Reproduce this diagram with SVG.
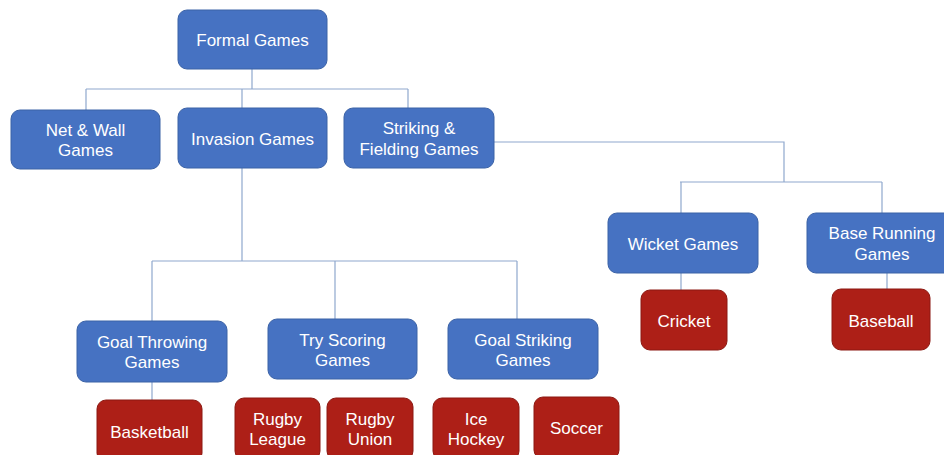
<svg xmlns="http://www.w3.org/2000/svg" width="944" height="455" viewBox="0 0 944 455">
<style>
.b{fill:#4672C2;stroke:#3B62A6;stroke-width:1}
.r{fill:#AD1F17;stroke:#8C1912;stroke-width:1}
text{font-family:"Liberation Sans",Arial,sans-serif;font-size:17px;fill:#ffffff;text-anchor:middle}
.c{fill:none;stroke:#8FA8CE;stroke-width:1.2}
</style>
<rect width="944" height="455" fill="#ffffff"/>
<g id="connectors">
<path class="c" d="M252,69V89M86,89H408M86,89V110M242,89V108M408,89V108"/>
<path class="c" d="M494,142H784V182M680,182H882M681,182V213M882,182V213"/>
<path class="c" d="M681,273V290M887,273V289"/>
<path class="c" d="M242,168V261M152,261H517M152,261V321M335,261V319M517,261V319M152,382V400"/>
</g>
<g id="formal"><rect class="b" x="178" y="10" width="149" height="59" rx="9"/><text x="252.5" y="46">Formal Games</text></g>
<g id="netwall"><rect class="b" x="11" y="110" width="149" height="59" rx="9"/><text x="85.5" y="136">Net &amp; Wall</text><text x="85.5" y="156">Games</text></g>
<g id="invasion"><rect class="b" x="178" y="108" width="149" height="60" rx="9"/><text x="252.5" y="145">Invasion Games</text></g>
<g id="striking"><rect class="b" x="344" y="108" width="150" height="60" rx="9"/><text x="419" y="134">Striking &amp;</text><text x="419" y="155">Fielding Games</text></g>
<g id="wicket"><rect class="b" x="608" y="213" width="150" height="60" rx="9"/><text x="683" y="250">Wicket Games</text></g>
<g id="baserunning"><rect class="b" x="807" y="213" width="150" height="60" rx="9"/><text x="882" y="239">Base Running</text><text x="882" y="260">Games</text></g>
<g id="cricket"><rect class="r" x="641" y="290" width="86" height="60" rx="9"/><text x="684" y="327">Cricket</text></g>
<g id="baseball"><rect class="r" x="832" y="289" width="98" height="61" rx="9"/><text x="881" y="327">Baseball</text></g>
<g id="goalthrowing"><rect class="b" x="77" y="321" width="150" height="61" rx="9"/><text x="152" y="348">Goal Throwing</text><text x="152" y="368">Games</text></g>
<g id="tryscoring"><rect class="b" x="268" y="319" width="149" height="60" rx="9"/><text x="342.5" y="346">Try Scoring</text><text x="342.5" y="366">Games</text></g>
<g id="goalstriking"><rect class="b" x="448" y="319" width="150" height="60" rx="9"/><text x="523" y="346">Goal Striking</text><text x="523" y="366">Games</text></g>
<g id="basketball"><rect class="r" x="97" y="400" width="105" height="62" rx="9"/><text x="149.5" y="438">Basketball</text></g>
<g id="rugbyleague"><rect class="r" x="235" y="398" width="85" height="62" rx="9"/><text x="277.5" y="425">Rugby</text><text x="277.5" y="445">League</text></g>
<g id="rugbyunion"><rect class="r" x="327" y="398" width="86" height="62" rx="9"/><text x="370" y="425">Rugby</text><text x="370" y="445">Union</text></g>
<g id="icehockey"><rect class="r" x="433" y="398" width="86" height="62" rx="9"/><text x="476" y="425">Ice</text><text x="476" y="445">Hockey</text></g>
<g id="soccer"><rect class="r" x="534" y="397" width="85" height="62" rx="9"/><text x="576.5" y="434">Soccer</text></g>
</svg>
